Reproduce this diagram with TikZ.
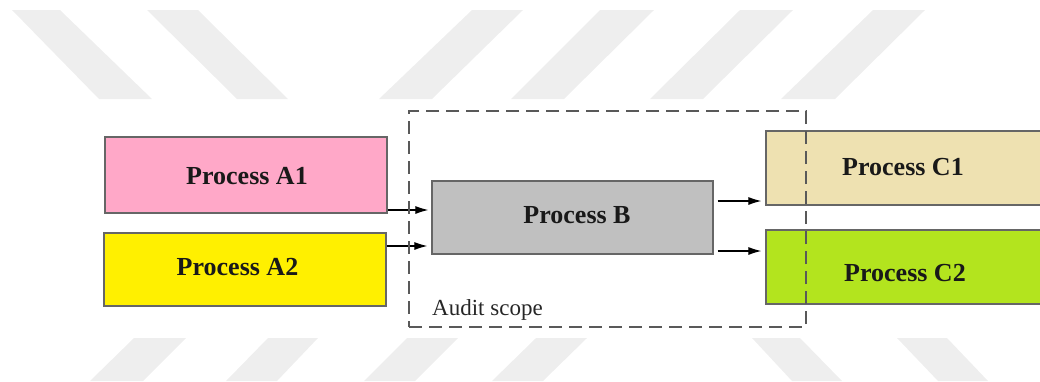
\documentclass[tikz,border=0pt]{standalone}
\usepackage{fontspec}
\setmainfont{Liberation Serif}
\usetikzlibrary{arrows.meta}
\definecolor{procpink}{HTML}{FFA8C8}
\definecolor{procyellow}{HTML}{FFF000}
\definecolor{procgray}{HTML}{C0C0C0}
\definecolor{proctan}{HTML}{EEE1B1}
\definecolor{proclime}{HTML}{B3E41E}
\definecolor{bandgray}{HTML}{EEEEEE}
\begin{document}
\begin{tikzpicture}[x=1pt,y=-1pt,
  procbox/.style={draw=black!60, line width=1.2pt, inner sep=0pt},
  proclabel/.style={font=\fontsize{26}{30}\selectfont\bfseries, inner sep=0pt, text=black!90},
  flow/.style={line width=1.1pt, -{Latex[length=13pt,width=8pt]}},
  band/.style={fill=bandgray, draw=none},
  scopebox/.style={draw=black!65, line width=1.3pt, dash pattern=on 13pt off 7pt, inner sep=0pt}
]
\useasboundingbox (0,0) rectangle (1040,381);
\begin{scope}
\clip (0,0) rectangle (1040,381);

% light diagonal bands, upper row
\fill[band] (12,10) -- (60,10) -- (152,99) -- (99,99) -- cycle;
\fill[band] (147,10) -- (198,10) -- (288,99) -- (237,99) -- cycle;
\fill[band] (472,10) -- (523,10) -- (432,99) -- (379,99) -- cycle;
\fill[band] (600,10) -- (654,10) -- (564,99) -- (511,99) -- cycle;
\fill[band] (740,10) -- (793,10) -- (703,99) -- (650,99) -- cycle;
\fill[band] (873,10) -- (925,10) -- (835,99) -- (781,99) -- cycle;

% light diagonal bands, lower row
\fill[band] (134,338) -- (186,338) -- (143,381) -- (90,381) -- cycle;
\fill[band] (268,338) -- (318,338) -- (277,381) -- (226,381) -- cycle;
\fill[band] (407,338) -- (458,338) -- (415,381) -- (364,381) -- cycle;
\fill[band] (536,338) -- (587,338) -- (543,381) -- (492,381) -- cycle;
\fill[band] (752,338) -- (800,338) -- (842,381) -- (792,381) -- cycle;
\fill[band] (897,338) -- (947,338) -- (988,381) -- (938,381) -- cycle;

% process boxes
\node[procbox, fill=procpink, minimum width=282pt, minimum height=76pt] (a1) at (246,175) {};
\node[procbox, fill=procyellow, minimum width=282pt, minimum height=73pt] (a2) at (245,269.5) {};
\node[procbox, fill=procgray, minimum width=281pt, minimum height=73pt] (b) at (572.5,217.5) {};
\node[procbox, fill=proctan, minimum width=304pt, minimum height=74pt] (c1) at (918,168) {};
\node[procbox, fill=proclime, minimum width=304pt, minimum height=74pt] (c2) at (918,267) {};

% box captions
\node[proclabel] (a1text) at (247,176) {Process A1};
\node[proclabel] (a2text) at (237.5,267) {Process A2};
\node[proclabel] (btext) at (577,215) {Process B};
\node[proclabel] (c1text) at (903,167) {Process C1};
\node[proclabel] (c2text) at (905,273) {Process C2};

% flows
\draw[flow, shorten >=3pt] (a1.east |- 0,210) -- (b.west |- 0,210);
\draw[flow, shorten >=4pt] (a2.east |- 0,246) -- (b.west |- 0,246);
\draw[flow, shorten <=4pt, shorten >=4pt] (b.east |- 0,201) -- (c1.west |- 0,201);
\draw[flow, shorten <=4pt, shorten >=4pt] (b.east |- 0,251) -- (c2.west |- 0,251);

% audit scope boundary
\node[scopebox, minimum width=397pt, minimum height=216pt] (scope) at (607.5,219) {};
\node[anchor=base west, inner sep=0pt, font=\fontsize{23}{27}\selectfont, text=black!85] (scopetext) at (432,315) {Audit scope};
\end{scope}
\end{tikzpicture}
\end{document}
